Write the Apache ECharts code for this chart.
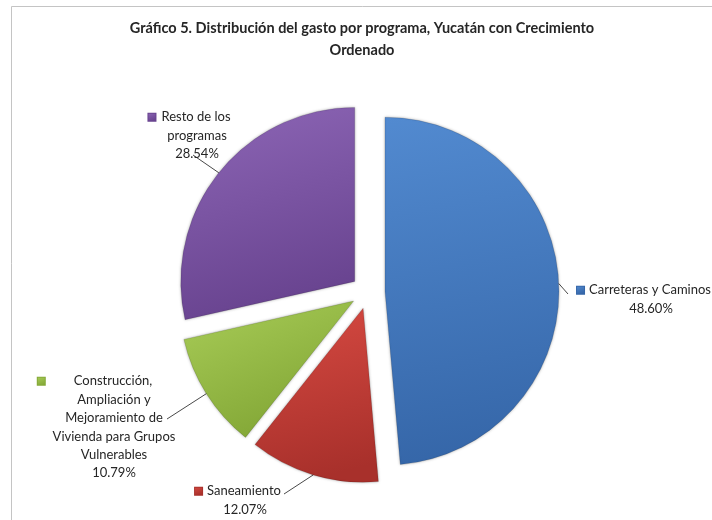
<!DOCTYPE html>
<html>
<head>
<meta charset="utf-8">
<script src="https://cdn.jsdelivr.net/npm/echarts@6/dist/echarts.min.js"></script>
<style>
  html, body { margin: 0; padding: 0; background: #ffffff; }
  #chart { width: 712px; height: 520px; }
</style>
</head>
<body>
<div id="chart"></div>
<script>
// Programmes and their share of spending, in %
const programas = [
  'Carreteras y Caminos',
  'Saneamiento',
  'Construcción, Ampliación y Mejoramiento de Vivienda para Grupos Vulnerables',
  'Resto de los programas'
];
// Label text, one entry per line
const etiquetas = [
  ['Carreteras y Caminos'],
  ['Saneamiento'],
  ['Construcción,', 'Ampliación y', 'Mejoramiento de', 'Vivienda para Grupos', 'Vulnerables'],
  ['Resto de los', 'programas']
];
const porcentajes = [48.60, 12.07, 10.79, 28.54];

// Slice fills: [light, dark] gradient stops
const colores = [
  ['#528ad0', '#3566a8'],
  ['#d74a42', '#a8302b'],
  ['#a9cd58', '#85a938'],
  ['#8d66b6', '#68438f']
];

// Pie geometry
const CENTER = [368, 292];
const RADIUS = 174;
const EXPLODE = 17;

// Label blocks: top-centre of the text, gap between key and first line,
// and the point where the leader line meets the label
const labelPos = [
  { x: 651, y: 281, gap: 5, anchor: [568, 294] },
  { x: 245, y: 482, gap: 5, anchor: [284, 494] },
  { x: 114, y: 372, gap: 29, anchor: [167, 419] },
  { x: 197, y: 108, gap: 6, anchor: [193, 155] }
];

const FONT = 'Lato, "Noto Sans", sans-serif';
const TEXT_COLOR = '#262626';
const LINE_H = 18.4;

function grad(c, x2, y2) {
  return new echarts.graphic.LinearGradient(0, 0, x2, y2, [
    { offset: 0, color: c[0] },
    { offset: 1, color: c[1] }
  ]);
}

const chart = echarts.init(document.getElementById('chart'), null, { renderer: 'canvas' });

const total = porcentajes.reduce((a, b) => a + b, 0);

// Chart frame (its right and bottom sides run past the canvas)
const graphics = [{
  type: 'rect',
  shape: { x: 11.5, y: 6.5, width: 740, height: 540 },
  style: { fill: 'none', stroke: '#c4c4c4', lineWidth: 1 },
  silent: true, z: -1
}];

// Labels and leader lines follow each slice's middle angle
let acc = 0;
porcentajes.forEach((v, i) => {
  const mid = ((acc + v / 2) / total) * 2 * Math.PI; // clockwise from 12 o'clock
  acc += v;
  const dx = Math.sin(mid), dy = -Math.cos(mid);
  const cx = CENTER[0] + EXPLODE * dx, cy = CENTER[1] + EXPLODE * dy;
  const edge = [cx + RADIUS * dx, cy + RADIUS * dy];
  const lp = labelPos[i];

  graphics.push({
    type: 'polyline',
    shape: { points: [edge, lp.anchor] },
    style: { stroke: '#1a1a1a', lineWidth: 0.8, fill: null },
    silent: true, z: 10
  });

  const lines = etiquetas[i];
  const first = '{sq|}{gap|}{t|' + lines[0] + '}{pad|}';
  const rest = lines.slice(1).map(l => '{t|' + l + '}');
  const pct = '{t|' + v.toFixed(2) + '%}';
  graphics.push({
    type: 'text',
    silent: true, z: 10,
    style: {
      x: lp.x, y: lp.y,
      text: [first].concat(rest, [pct]).join('\n'),
      align: 'center', verticalAlign: 'top',
      rich: {
        sq: {
          width: 7, height: 7,
          backgroundColor: grad(colores[i], 0.4, 1),
          borderColor: colores[i][1], borderWidth: 1
        },
        gap: { width: lp.gap },
        pad: { width: lp.gap + 9 },
        t: { fontFamily: FONT, fontSize: 13, fill: TEXT_COLOR, lineHeight: LINE_H }
      }
    }
  });
});

chart.setOption({
  backgroundColor: '#ffffff',
  animation: false,
  title: {
    text: 'Gráfico 5. Distribución del gasto por programa, Yucatán con Crecimiento\nOrdenado',
    left: 362, top: 17, textAlign: 'center', padding: 0,
    textStyle: {
      fontFamily: FONT, fontWeight: 'bold', fontSize: 14.5,
      color: TEXT_COLOR, lineHeight: 22
    }
  },
  graphic: graphics,
  series: [{
    type: 'pie',
    center: CENTER,
    radius: RADIUS,
    startAngle: 90,
    clockwise: true,
    selectedMode: 'multiple',
    selectedOffset: EXPLODE,
    silent: true,
    label: { show: false },
    labelLine: { show: false },
    itemStyle: {
      borderWidth: 1,
      borderColor: 'rgba(0,0,0,0.12)',
      shadowBlur: 3,
      shadowColor: 'rgba(0,0,0,0.3)'
    },
    data: programas.map((name, i) => ({
      name: name,
      value: porcentajes[i],
      selected: true,
      itemStyle: { color: grad(colores[i], 0.35, 1) }
    }))
  }]
});
</script>
</body>
</html>
